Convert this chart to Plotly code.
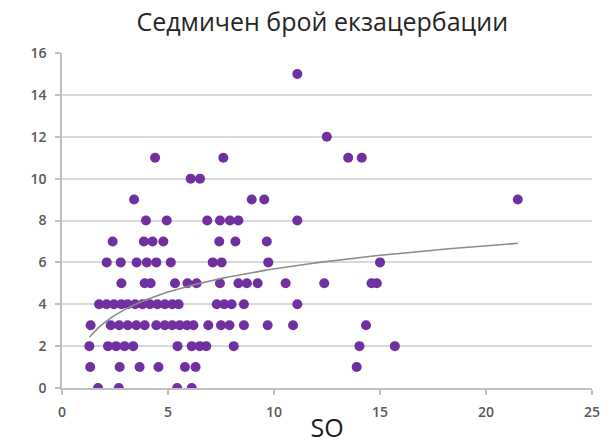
import numpy as np
import plotly.graph_objects as go

# Scatter data (SO vs weekly exacerbation count)
so_values = [
    # y = 0
    1.7, 2.68, 5.43, 6.12,
    # y = 1
    1.33, 2.72, 3.66, 4.55, 5.8, 6.3, 13.9,
    # y = 2
    1.29, 2.17, 2.55, 2.95, 3.36, 5.45, 6.12, 6.5, 6.8, 8.1, 14.03, 15.7,
    # y = 3
    1.35, 2.3, 2.7, 3.1, 3.5, 3.9, 4.45, 4.85, 5.2, 5.55, 5.9, 6.2, 6.9, 7.5, 7.9, 8.58, 9.7, 10.9, 14.34,
    # y = 4
    1.75, 2.1, 2.45, 2.8, 3.1, 3.45, 3.8, 4.15, 4.5, 4.85, 5.2, 5.5, 7.3, 7.65, 8.0, 8.58, 11.1,
    # y = 5
    2.8, 3.9, 4.18, 5.33, 5.92, 6.35, 7.45, 8.32, 8.72, 9.23, 10.55, 12.37, 14.6, 14.85,
    # y = 6
    2.11, 2.77, 3.52, 4.0, 4.45, 5.13, 7.11, 7.53, 9.73, 15.0,
    # y = 7
    2.39, 3.86, 4.27, 4.78, 7.42, 8.18, 9.66,
    # y = 8
    3.96, 4.94, 6.85, 7.45, 7.92, 8.32, 11.1,
    # y = 9
    3.4, 8.95, 9.54, 21.5,
    # y = 10
    6.07, 6.51,
    # y = 11
    4.39, 7.61, 13.5, 14.14,
    # y = 12
    12.49,
    # y = 15
    11.1,
]
exacerbations = (
    [0] * 4 + [1] * 7 + [2] * 12 + [3] * 19 + [4] * 17 + [5] * 14 +
    [6] * 10 + [7] * 7 + [8] * 7 + [9] * 4 + [10] * 2 + [11] * 4 + [12] * 1 + [15] * 1
)

title_text = "Седмичен брой екзацербации"
x_title = "SO"
x_ticks = [0, 5, 10, 15, 20, 25]
y_ticks = [0, 2, 4, 6, 8, 10, 12, 14, 16]

x = np.array(so_values)
y = np.array(exacerbations)

# Logarithmic trendline (least squares on ln x), like the spreadsheet's
a, b = np.polyfit(np.log(x), y, 1)
xt = np.linspace(x.min(), x.max(), 200)
yt = a * np.log(xt) + b

fig = go.Figure()
fig.add_trace(go.Scatter(
    x=x, y=y, mode="markers",
    marker=dict(color="#7030A0", size=10, line=dict(width=0)),
    showlegend=False, hoverinfo="x+y",
))
fig.add_trace(go.Scatter(
    x=xt, y=yt, mode="lines",
    line=dict(color="#8c8c8c", width=1.6),
    showlegend=False, hoverinfo="skip",
))

tick_font = dict(family="Open Sans, sans-serif", size=14, color="#595959", weight=600)

fig.update_layout(
    width=615, height=446,
    margin=dict(l=62, r=23, t=53, b=58, autoexpand=False),
    paper_bgcolor="white", plot_bgcolor="white",
    title=dict(text=title_text, x=0.524, xanchor="center", y=0.95, yanchor="middle",
               font=dict(family="Open Sans, Lato, sans-serif", size=25, color="#262626")),
    font=dict(family="Open Sans, Lato, sans-serif"),
)
fig.update_xaxes(
    range=[0, 25], tickvals=x_ticks, showgrid=False, zeroline=False, automargin=False,
    showline=True, linecolor="#bfbfbf", linewidth=1.5,
    ticks="outside", ticklen=5, tickcolor="#bfbfbf", tickwidth=1.5,
    tickfont=tick_font, ticklabelstandoff=5,
    title=dict(text=x_title, font=dict(size=25, color="#1a1a1a"), standoff=0),
)
fig.update_yaxes(
    range=[0, 16], tickvals=y_ticks, showgrid=True, gridcolor="#d9d9d9", gridwidth=1.5,
    zeroline=False, showline=True, linecolor="#bfbfbf", linewidth=1.5, automargin=False,
    ticks="outside", ticklen=5, tickcolor="#bfbfbf", tickwidth=1.5,
    tickfont=tick_font, ticklabelstandoff=6,
)

fig.write_html("out.html", config={"displayModeBar": False},
               post_script="document.body.style.margin='0px';")
